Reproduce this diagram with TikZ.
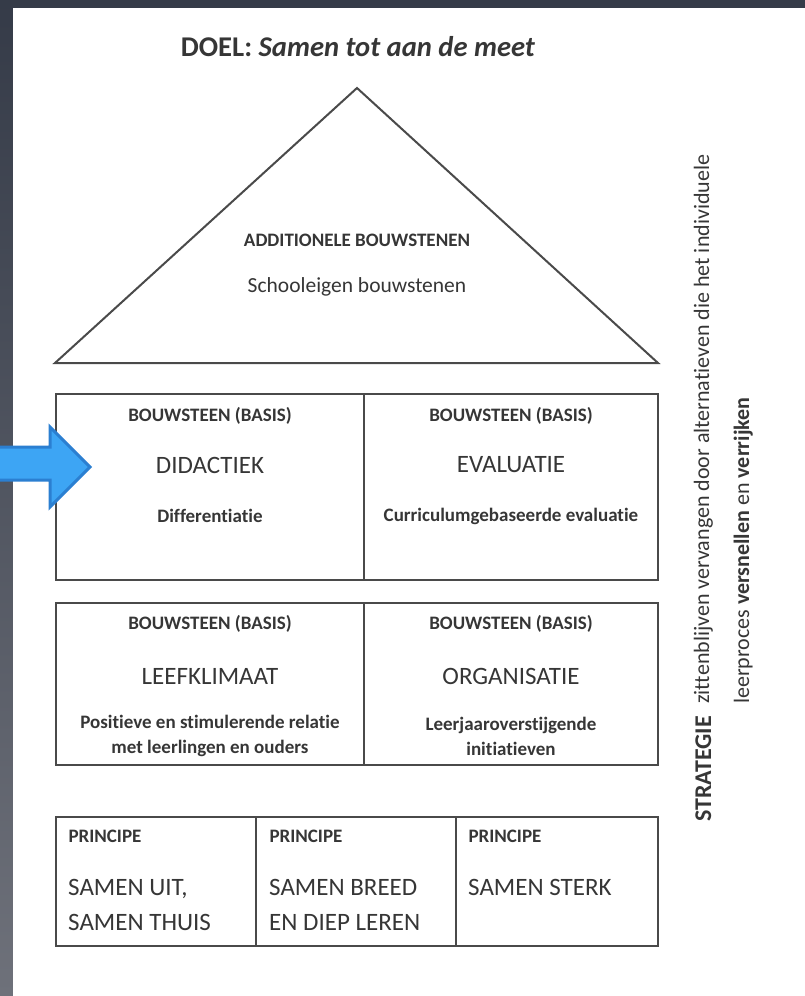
\documentclass[tikz,border=0pt]{standalone}
\usepackage{fontspec}
\setmainfont{Carlito}[Ligatures=NoCommon]
\usetikzlibrary{positioning}

\definecolor{slatetop}{HTML}{353B48}
\definecolor{slatebottom}{HTML}{6E717A}
\definecolor{inkgray}{HTML}{363636}
\definecolor{framegray}{HTML}{4A4A4A}
\definecolor{arrowblue}{HTML}{3DA5F4}
\definecolor{arrowedge}{HTML}{2B7FD1}

\tikzset{
  frame/.style={draw=framegray, line width=2pt},
  cell/.style={frame, inner sep=0pt, outer sep=0pt, anchor=north west},
  goal/.style={font=\fontsize{28.6}{32}\selectfont\bfseries, text=inkgray},
  tag/.style={font=\fontsize{19}{23}\selectfont\bfseries, text=inkgray},
  pillar/.style={font=\fontsize{25}{30}\selectfont, text=inkgray},
  detail/.style={font=\fontsize{19}{25}\selectfont\bfseries, text=inkgray, align=center},
  roofnote/.style={font=\fontsize{21.5}{26}\selectfont, text=inkgray},
  motto/.style={font=\fontsize{25}{35}\selectfont, text=inkgray, align=left, inner sep=0pt, anchor=north west},
  strat/.style={rotate=90, anchor=base west, inner sep=0pt, text=inkgray}
}

\begin{document}
\begin{tikzpicture}[x=1pt, y=-1pt]
  \useasboundingbox (0,0) rectangle (805,996);
  % slide background and page
  \shade[top color=slatetop, bottom color=slatebottom] (0,0) rectangle (805,996);
  \fill[white] (13,8) rectangle (805,996);

  % goal
  \node[goal] (doel) at (358,47) {DOEL: \textit{Samen tot aan de meet}};

  % roof
  \coordinate (apex) at (357,88);
  \coordinate (roofL) at (55,363);
  \coordinate (roofR) at (658,363);
  \draw[frame] (roofL) -- (apex) -- (roofR) -- cycle;
  \node[tag] (extra) at (357,240) {ADDITIONELE BOUWSTENEN};
  \node[roofnote] (eigen) at (357,287) {Schooleigen bouwstenen};

  % building blocks
  \node[cell, minimum width=308pt, minimum height=186pt] (didactiek) at (56,394) {};
  \node[cell, minimum width=294pt, minimum height=186pt] (evaluatie) at (didactiek.north east) {};
  \node[cell, minimum width=308pt, minimum height=162pt] (leefklimaat) at (56,603) {};
  \node[cell, minimum width=294pt, minimum height=162pt] (organisatie) at (leefklimaat.north east) {};

  \node[tag] (didtag) at ([yshift=-22pt]didactiek.north) {BOUWSTEEN (BASIS)};
  \node[pillar] (didname) at ([yshift=-71pt]didactiek.north) {DIDACTIEK};
  \node[detail] (didnote) at ([yshift=-122pt]didactiek.north) {Differentiatie};

  \node[tag] (evaltag) at ([yshift=-22pt]evaluatie.north) {BOUWSTEEN (BASIS)};
  \node[pillar] (evalname) at ([yshift=-71pt]evaluatie.north) {EVALUATIE};
  \node[detail] (evalnote) at ([yshift=-122pt]evaluatie.north) {Curriculumgebaseerde evaluatie};

  \node[tag] (leeftag) at ([yshift=-21pt]leefklimaat.north) {BOUWSTEEN (BASIS)};
  \node[pillar] (leefname) at ([yshift=-73pt]leefklimaat.north) {LEEFKLIMAAT};
  \node[detail] (leefnote) at ([yshift=-133pt]leefklimaat.north) {Positieve en stimulerende relatie\\met leerlingen en ouders};

  \node[tag] (orgtag) at ([yshift=-21pt]organisatie.north) {BOUWSTEEN (BASIS)};
  \node[pillar] (orgname) at ([yshift=-73pt]organisatie.north) {ORGANISATIE};
  \node[detail] (orgnote) at ([yshift=-133pt]organisatie.north) {Leerjaaroverstijgende\\initiatieven};

  % principles
  \node[cell, minimum width=200pt, minimum height=129pt] (uit) at (56,817) {};
  \node[cell, minimum width=200pt, minimum height=129pt] (breed) at (uit.north east) {};
  \node[cell, minimum width=202pt, minimum height=129pt] (sterk) at (breed.north east) {};

  \node[tag, anchor=west] (uittag) at ([xshift=9pt, yshift=-19pt]uit.north west) {PRINCIPE};
  \node[tag, anchor=west] (breedtag) at ([xshift=10pt, yshift=-19pt]breed.north west) {PRINCIPE};
  \node[tag, anchor=west] (sterktag) at ([xshift=9pt, yshift=-19pt]sterk.north west) {PRINCIPE};

  \node[motto] (uittext) at ([xshift=12pt, yshift=-62pt]uit.north west) {SAMEN UIT,\\SAMEN THUIS};
  \node[motto] (breedtext) at ([xshift=13pt, yshift=-62pt]breed.north west) {SAMEN BREED\\EN DIEP LEREN};
  \node[motto] (sterktext) at ([xshift=12pt, yshift=-62pt]sterk.north west) {SAMEN STERK};

  % strategy, set sideways
  \node[strat, font=\fontsize{24}{28}\selectfont\bfseries] (strategie) at (711,822) {STRATEGIE};
  \node[strat, font=\fontsize{22}{26}\selectfont] (stratline) at (709,704) {zittenblijven vervangen door alternatieven die het individuele};
  \node[strat, font=\fontsize{22}{26}\selectfont] (stratrest) at (749,704) {leerproces \textbf{versnellen} en \textbf{verrijken}};

  % pointer to didactiek
  \filldraw[fill=arrowblue, draw=arrowedge, line width=3pt]
    (-5,447) -- (50,447) -- (50,427) -- (90,467) -- (50,507) -- (50,480) -- (-5,480) -- cycle;
\end{tikzpicture}
\end{document}
